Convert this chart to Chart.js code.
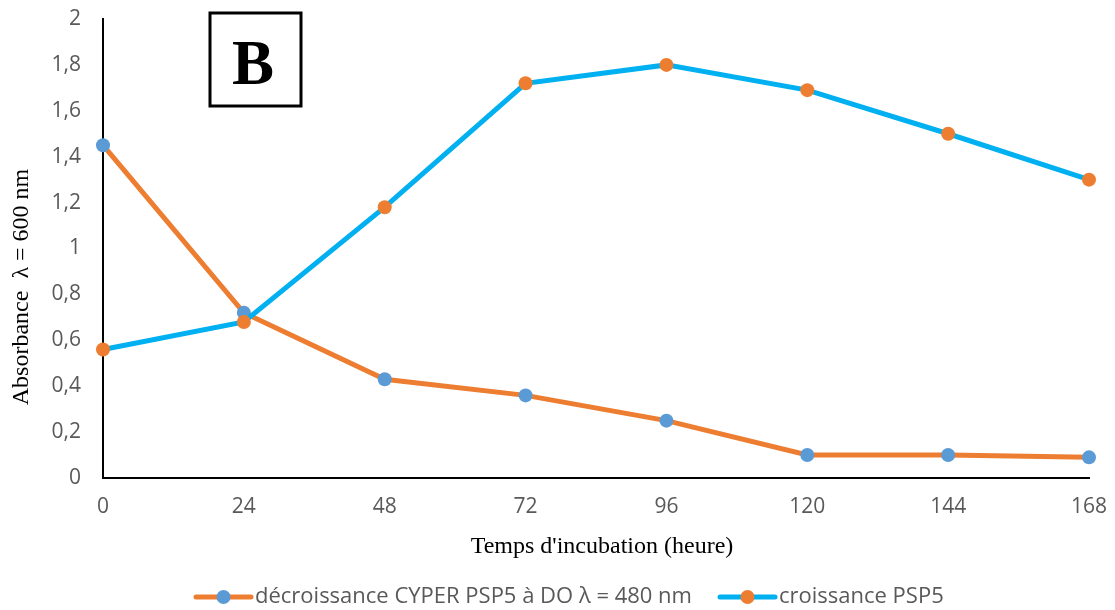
<!DOCTYPE html>
<html>
<head>
<meta charset="utf-8">
<script src="https://cdn.jsdelivr.net/npm/chart.js@4"></script>
<style>
  html, body { margin: 0; padding: 0; background: #fff; }
  #wrap { width: 1115px; height: 610px; }
</style>
</head>
<body>
<div id="wrap"><canvas id="myChart"></canvas></div>
<script>
// Hours of incubation
const hours = ['0', '24', '48', '72', '96', '120', '144', '168'];

// Absorbance readings
const decroissance = [1.45, 0.72, 0.43, 0.36, 0.25, 0.10, 0.10, 0.09];
const croissance = [0.56, 0.68, 1.18, 1.72, 1.80, 1.69, 1.50, 1.30];

const labelDecroissance = 'décroissance CYPER PSP5 à DO λ = 480 nm';
const labelCroissance = 'croissance PSP5';
const yTitle = 'Absorbance  λ = 600 nm';
const xTitle = "Temps d'incubation (heure)";

const orange = '#ED7D31';
const lightBlue = '#00B0F0';
const pointBlue = '#5B9BD5';
const tickGrey = '#595959';
const sansFont = "'Open Sans', 'Noto Sans', sans-serif";
const serifFont = "'Liberation Serif', 'DejaVu Serif', serif";

// panel letter in a box + axis titles
const panelLetter = {
    id: 'panelLetter',
    afterDraw(chart) {
        const ctx = chart.ctx;
        ctx.save();
        ctx.strokeStyle = '#000';
        ctx.lineWidth = 3;
        ctx.strokeRect(210, 13, 91, 93);
        ctx.fillStyle = '#000';
        ctx.font = 'bold 63px ' + serifFont;
        ctx.textAlign = 'center';
        ctx.textBaseline = 'alphabetic';
        ctx.fillText('B', 253, 84);

        ctx.textBaseline = 'middle';
        ctx.font = '24px ' + serifFont;
        ctx.fillText(xTitle, 602, 547);

        ctx.translate(22, 287);
        ctx.rotate(-Math.PI / 2);
        ctx.fillText(yTitle, 0, 0);
        ctx.restore();
    }
};

// legend at the bottom: line with marker, then label
const bottomLegend = {
    id: 'bottomLegend',
    afterDraw(chart) {
        const ctx = chart.ctx;
        const y = 597;
        const items = [
            { x: 196, ds: chart.data.datasets[0] },
            { x: 720, ds: chart.data.datasets[1] }
        ];
        ctx.save();
        items.forEach((it) => {
            ctx.strokeStyle = it.ds.borderColor;
            ctx.lineWidth = 5;
            ctx.lineCap = 'round';
            ctx.beginPath();
            ctx.moveTo(it.x, y);
            ctx.lineTo(it.x + 55, y);
            ctx.stroke();
            ctx.fillStyle = it.ds.pointBackgroundColor;
            ctx.beginPath();
            ctx.arc(it.x + 27.5, y, 7, 0, Math.PI * 2);
            ctx.fill();
            ctx.fillStyle = tickGrey;
            ctx.font = '22px ' + sansFont;
            ctx.textAlign = 'left';
            ctx.textBaseline = 'middle';
            ctx.fillText(it.ds.label, it.x + 59, y);
        });
        ctx.restore();
    }
};

const ctx = document.getElementById('myChart');

const config = {
    type: 'line',
    data: {
        labels: hours,
        datasets: [{
            label: labelDecroissance,
            data: decroissance,
            borderColor: orange,
            backgroundColor: orange,
            borderWidth: 5,
            pointRadius: 7,
            pointHoverRadius: 7,
            pointBorderWidth: 0,
            pointBackgroundColor: pointBlue,
            tension: 0,
            order: 2
        }, {
            label: labelCroissance,
            data: croissance,
            borderColor: lightBlue,
            backgroundColor: lightBlue,
            borderWidth: 5,
            pointRadius: 7,
            pointHoverRadius: 7,
            pointBorderWidth: 0,
            pointBackgroundColor: orange,
            tension: 0,
            order: 1
        }]
    },
    options: {
        responsive: true,
        maintainAspectRatio: false,
        animation: false,
        layout: {
            padding: { left: 0, right: 26, top: 19, bottom: 0 }
        },
        plugins: {
            legend: { display: false },
            tooltip: { enabled: false }
        },
        scales: {
            x: {
                offset: false,
                grid: { display: true, color: 'transparent', drawTicks: false },
                border: { display: true, color: '#000', width: 2 },
                ticks: {
                    color: tickGrey,
                    font: { family: sansFont, size: 21 },
                    padding: 16,
                    maxRotation: 0
                },
                afterFit(scale) {
                    scale.height = 132;
                    scale.paddingLeft = 0;
                    scale.paddingRight = 0;
                }
            },
            y: {
                min: 0,
                max: 2,
                grid: { display: true, color: 'transparent', drawTicks: false },
                border: { display: true, color: '#000', width: 2 },
                ticks: {
                    stepSize: 0.2,
                    color: tickGrey,
                    font: { family: sansFont, size: 21 },
                    padding: 22,
                    callback: (v) => String(Number(v.toFixed(1))).replace('.', ',')
                },
                afterFit(scale) {
                    scale.width = 103;
                    scale.paddingTop = 0;
                    scale.paddingBottom = 0;
                }
            }
        }
    },
    plugins: [panelLetter, bottomLegend]
};

const chart = new Chart(ctx, config);
</script>
</body>
</html>
